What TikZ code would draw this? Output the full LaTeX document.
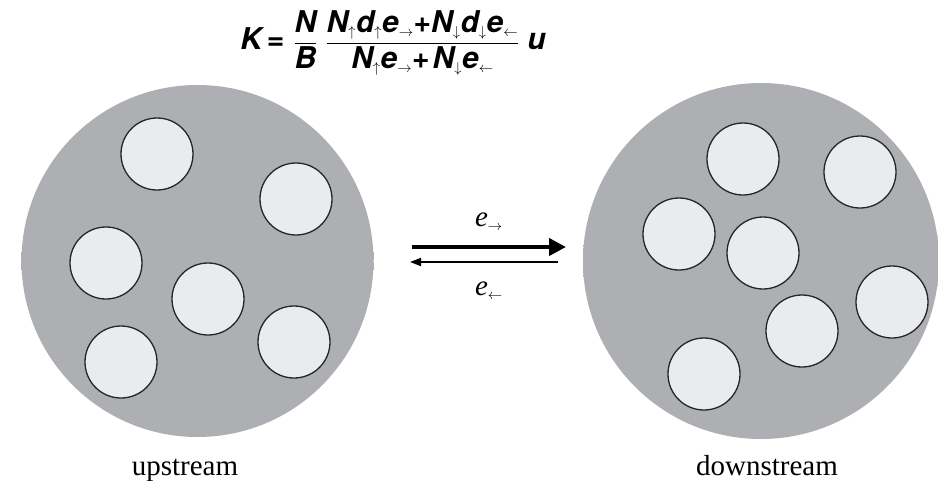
\documentclass[tikz,border=0pt]{standalone}
\usepackage{amsmath}
\usepackage{fontspec}
\setmainfont{Liberation Serif}
\newfontfamily\heros{TeX Gyre Heros}
\usepackage{xcolor}
\usepackage{tikz}
\usetikzlibrary{arrows.meta,positioning}

\definecolor{poolgray}{RGB}{173,175,178}
\definecolor{grainfill}{RGB}{234,235,237}
\pgfdeclareradialshading{poolshade}{\pgfpoint{0bp}{0bp}}{%
  color(0bp)=(poolgray); color(45.5bp)=(poolgray);
  color(50bp)=(white); color(100bp)=(white)}

\newcommand{\hb}[1]{\mbox{\heros\bfseries\itshape #1}}
\newcommand{\hp}[1]{\mbox{\heros\bfseries #1}}
\newcommand{\subar}[1]{_{\mbox{\fontsize{15}{15}\selectfont$#1$}}}

\tikzset{
  pool/.style={circle, minimum size=352pt, inner sep=0pt, shading=poolshade},
  grain/.style={circle, draw=black!85, line width=1.3pt, fill=grainfill,
    minimum size=72pt, inner sep=0pt},
  caption/.style={font=\fontsize{29}{32}\selectfont}
}

\begin{document}
\begin{tikzpicture}[x=1pt,y=-1pt]
\useasboundingbox (0,0) rectangle (938,480);
% the two pools
\node[pool] (up) at (197.5,261) {};
\node[pool, minimum size=356pt] (down) at (761,261) {};
% grains upstream
\node[grain] (u1) at (157,154) {};
\node[grain] (u2) at (296,199) {};
\node[grain] (u3) at (106,263) {};
\node[grain] (u4) at (208,299) {};
\node[grain] (u5) at (121,362) {};
\node[grain] (u6) at (294,342) {};
% grains downstream
\node[grain] (d1) at (743,159) {};
\node[grain] (d2) at (860,172) {};
\node[grain] (d3) at (679,234) {};
\node[grain] (d4) at (763,253) {};
\node[grain] (d5) at (892,302) {};
\node[grain] (d6) at (802,331) {};
\node[grain] (d7) at (704,374) {};
% exchange arrows
\coordinate (fwdA) at (412,247);
\coordinate (fwdB) at (566,247);
\coordinate (bwdA) at (558,262);
\coordinate (bwdB) at (410,262);
\draw[line width=4pt, -{Triangle[length=17pt,width=17pt]}] (fwdA) -- (fwdB);
\draw[line width=1.8pt, -{Triangle[length=11pt,width=8pt]}] (bwdA) -- (bwdB);
\node[caption] (efwd) at (489,222) {\textit{e}$\subar{\rightarrow}$};
\node[caption] (ebwd) at (489,291) {\textit{e}$\subar{\leftarrow}$};
% labels
\node[caption, anchor=base] (uplabel) at (185,475) {upstream};
\node[caption, anchor=base] (downlabel) at (767,475) {downstream};
% formula
\node[font=\fontsize{30}{34}\selectfont, inner sep=0pt] (formula) at (393,43)
  {$\displaystyle \hb{K}\hspace{5pt}\hp{=}\hspace{9pt}\frac{\hb{N}}{\hb{B}}\hspace{8pt}
   \frac{\hb{N}\subar{\uparrow}\hb{d}\subar{\uparrow}\hb{e}\subar{\rightarrow}\hp{+}\hb{N}\subar{\downarrow}\hb{d}\subar{\downarrow}\hb{e}\subar{\leftarrow}}
        {\hb{N}\subar{\uparrow}\hb{e}\subar{\rightarrow}\hp{+}\hspace{3pt}\hb{N}\subar{\downarrow}\hb{e}\subar{\leftarrow}}\hspace{8pt}\hb{u}$};
\end{tikzpicture}
\end{document}
